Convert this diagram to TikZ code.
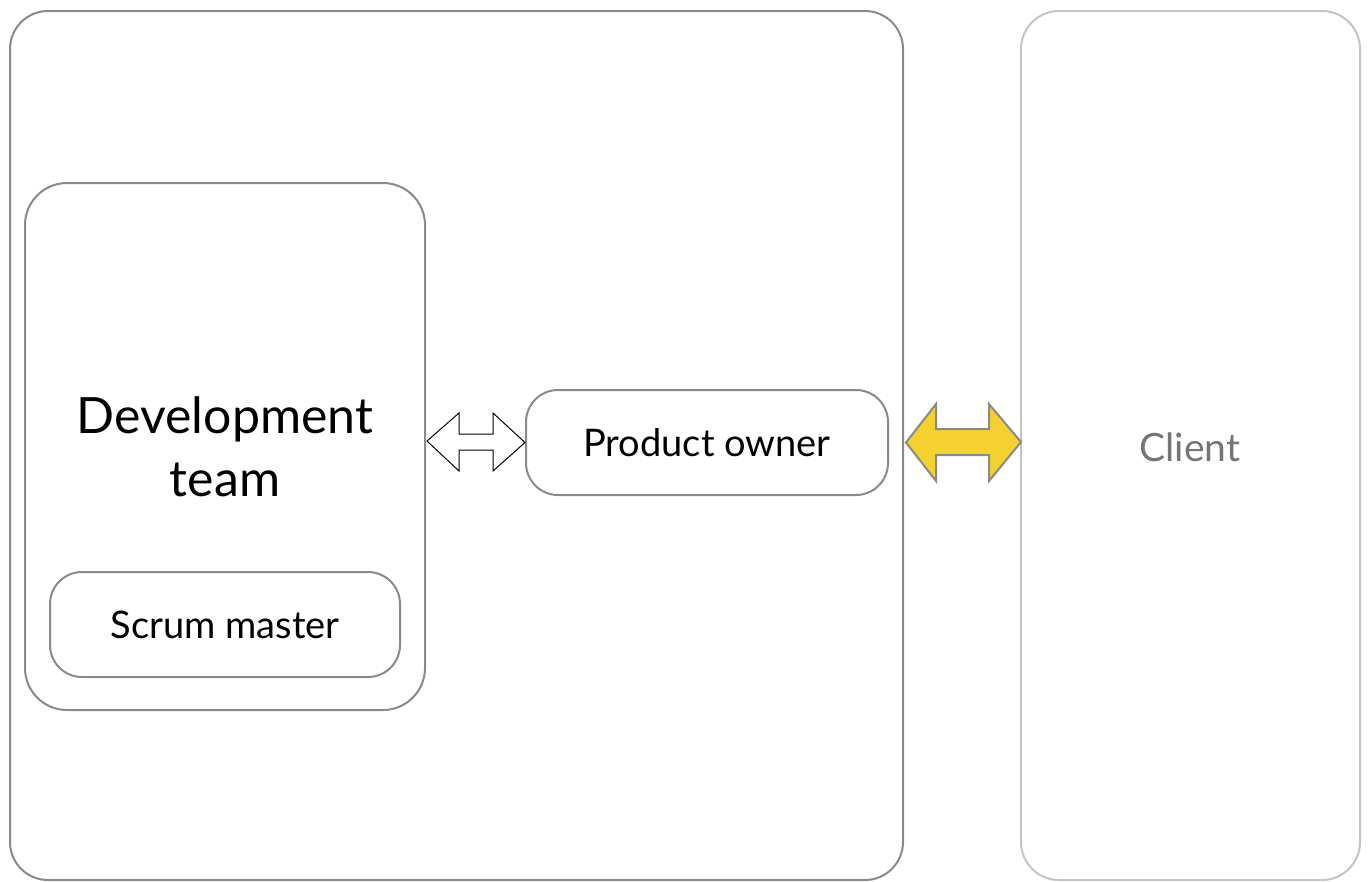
\documentclass[tikz,border=0pt]{standalone}
\usepackage{fontspec}
\setmainfont{Lato}
\definecolor{boxgray}{HTML}{8A8A8C}
\definecolor{lightgray2}{HTML}{C4C4C4}
\definecolor{arrowyellow}{HTML}{F4D12E}
\definecolor{clienttext}{HTML}{757575}
\tikzset{
  rbox/.style={draw=boxgray, line width=2pt, rounded corners=#1},
  rbox/.default=35pt,
  lbl/.style={align=center, text=black, inner sep=0pt},
}
\begin{document}
\begin{tikzpicture}[x=1pt,y=-1pt]
\useasboundingbox (0,0) rectangle (1368,881);
\fill[white] (0,0) rectangle (1368,881);
% outer box
\draw[rbox=38pt] (10,11) rectangle (903,880);
% client box
\draw[rbox=38pt, draw=lightgray2] (1021,11) rectangle (1360,880);
% development team
\draw[rbox=42pt] (25,183) rectangle (425,710);
\node[rbox=32pt, minimum width=350pt, minimum height=105pt, inner sep=0pt] (sm) at (225,624.5) {};
\node[lbl, font=\fontsize{38}{44}\selectfont] (smt) at (sm.center) {Scrum master};
\node[rbox=32pt, minimum width=362pt, minimum height=105pt, inner sep=0pt] (po) at (707,442.5) {};
\node[lbl, font=\fontsize{38}{44}\selectfont] (pot) at (po.center) {Product owner};
\node[lbl, font=\fontsize{50}{63}\selectfont] (dev) at (225,447) {Development\\team};
\node[lbl, font=\fontsize{39}{44}\selectfont, text=clienttext] (cl) at (1190,447) {Client};
\coordinate (client) at (1021,442);
\coordinate (devr) at (427,441);
% white double arrow
\draw[black, line width=1pt, fill=white, line join=miter]
  (devr) -- (459,413) -- (459,434) -- (493,434) -- (493,413) -- (po.west)
  -- (493,471) -- (493,450) -- (459,450) -- (459,471) -- cycle;
% yellow double arrow
\draw[boxgray, line width=2pt, fill=arrowyellow, line join=miter]
  (po.east) ++(17,0) coordinate (ya) -- (936,404) -- (936,429) -- (989,429) -- (989,404) -- (client)
  -- (989,481) -- (989,455) -- (936,455) -- (936,481) -- cycle;
\end{tikzpicture}
\end{document}
